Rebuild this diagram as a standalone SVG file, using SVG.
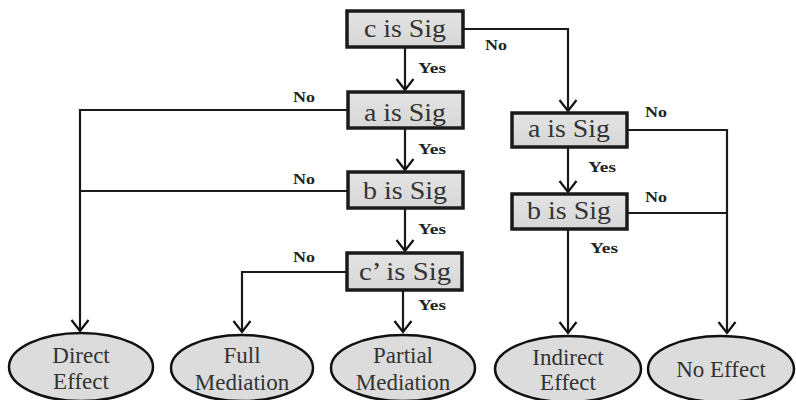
<svg xmlns="http://www.w3.org/2000/svg" width="796" height="400" viewBox="0 0 796 400">
<defs>
<marker id="arr" markerUnits="userSpaceOnUse" markerWidth="20" markerHeight="20" refX="11" refY="0" orient="auto" viewBox="-2 -10 14 20" overflow="visible">
<path d="M0,-8.5 L11,0 L0,8.5" fill="none" stroke="#111" stroke-width="2.2"/>
</marker>
<linearGradient id="g" x1="0" y1="0" x2="0" y2="1">
<stop offset="0" stop-color="#e4e4e4"/>
<stop offset="1" stop-color="#d6d6d6"/>
</linearGradient>
</defs>
<style>
.box{fill:url(#g);stroke:#1a1a1a;stroke-width:3.5}
.ell{fill:#dcdcdc;stroke:#111;stroke-width:2.5}
.bt{font-size:26px;fill:#333;text-anchor:middle}
.et{font-size:23px;fill:#333;text-anchor:middle}
.lb{font-size:15px;font-weight:bold;fill:#222}
.c{fill:none;stroke:#1a1a1a;stroke-width:2.2}
</style>
<rect width="796" height="400" fill="#fff"/>
<g font-family="Liberation Serif, Times New Roman, serif">
<g id="connectors">
<path class="c" d="M463,29 H568 V111" marker-end="url(#arr)"/>
<path class="c" d="M405,47 V90" marker-end="url(#arr)"/>
<path class="c" d="M405,128 V170" marker-end="url(#arr)"/>
<path class="c" d="M405,208 V251" marker-end="url(#arr)"/>
<path class="c" d="M403,290 V332" marker-end="url(#arr)"/>
<path class="c" d="M348,110 H80 V331" marker-end="url(#arr)"/>
<path class="c" d="M348,191 H80"/>
<path class="c" d="M347,272 H242 V332" marker-end="url(#arr)"/>
<path class="c" d="M568,147 V192" marker-end="url(#arr)"/>
<path class="c" d="M568,229 V333" marker-end="url(#arr)"/>
<path class="c" d="M627,130 H727 V333" marker-end="url(#arr)"/>
<path class="c" d="M627,213 H727"/>
<text class="lb" x="485" y="50" textLength="22" lengthAdjust="spacingAndGlyphs">No</text>
<text class="lb" x="418" y="73" textLength="28" lengthAdjust="spacingAndGlyphs">Yes</text>
<text class="lb" x="293" y="102" textLength="22" lengthAdjust="spacingAndGlyphs">No</text>
<text class="lb" x="418" y="154" textLength="28" lengthAdjust="spacingAndGlyphs">Yes</text>
<text class="lb" x="293" y="184" textLength="22" lengthAdjust="spacingAndGlyphs">No</text>
<text class="lb" x="418" y="234" textLength="28" lengthAdjust="spacingAndGlyphs">Yes</text>
<text class="lb" x="293" y="262" textLength="22" lengthAdjust="spacingAndGlyphs">No</text>
<text class="lb" x="418" y="310" textLength="28" lengthAdjust="spacingAndGlyphs">Yes</text>
<text class="lb" x="645" y="117" textLength="22" lengthAdjust="spacingAndGlyphs">No</text>
<text class="lb" x="588" y="172" textLength="28" lengthAdjust="spacingAndGlyphs">Yes</text>
<text class="lb" x="645" y="202" textLength="22" lengthAdjust="spacingAndGlyphs">No</text>
<text class="lb" x="590" y="253" textLength="28" lengthAdjust="spacingAndGlyphs">Yes</text>
</g>
<g id="c_sig"><rect class="box" x="347" y="11" width="116" height="36"/><text class="bt" x="405" y="37" textLength="82" lengthAdjust="spacingAndGlyphs">c is Sig</text></g>
<g id="a_sig_left"><rect class="box" x="348" y="92" width="115" height="36"/><text class="bt" x="405" y="121" textLength="82" lengthAdjust="spacingAndGlyphs">a is Sig</text></g>
<g id="b_sig_left"><rect class="box" x="348" y="172" width="115" height="36"/><text class="bt" x="405" y="199" textLength="84" lengthAdjust="spacingAndGlyphs">b is Sig</text></g>
<g id="cp_sig"><rect class="box" x="347" y="253" width="115" height="37"/><text class="bt" x="405" y="280" textLength="92" lengthAdjust="spacingAndGlyphs">c’ is Sig</text></g>
<g id="a_sig_right"><rect class="box" x="512" y="113" width="115" height="34"/><text class="bt" x="569" y="137" textLength="82" lengthAdjust="spacingAndGlyphs">a is Sig</text></g>
<g id="b_sig_right"><rect class="box" x="512" y="194" width="115" height="35"/><text class="bt" x="569" y="219" textLength="84" lengthAdjust="spacingAndGlyphs">b is Sig</text></g>
<g id="direct_effect"><ellipse class="ell" cx="81" cy="367" rx="72" ry="34"/><text class="et" x="81" y="363">Direct</text><text class="et" x="81" y="389">Effect</text></g>
<g id="full_mediation"><ellipse class="ell" cx="242" cy="368" rx="71" ry="33"/><text class="et" x="242" y="363">Full</text><text class="et" x="242" y="390">Mediation</text></g>
<g id="partial_mediation"><ellipse class="ell" cx="403" cy="368" rx="72" ry="33"/><text class="et" x="403" y="363">Partial</text><text class="et" x="403" y="390">Mediation</text></g>
<g id="indirect_effect"><ellipse class="ell" cx="568" cy="369" rx="73" ry="33"/><text class="et" x="568" y="365">Indirect</text><text class="et" x="568" y="390">Effect</text></g>
<g id="no_effect"><ellipse class="ell" cx="721" cy="369" rx="73" ry="33"/><text class="et" x="721" y="377">No Effect</text></g>
</g>
</svg>
